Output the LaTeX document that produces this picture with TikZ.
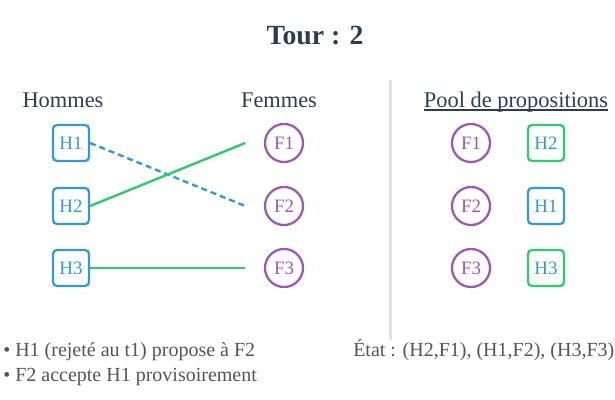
\documentclass[tikz,border=0pt]{standalone}
\usepackage{fontspec}
\setmainfont{Liberation Serif}
\definecolor{homme}{HTML}{3498DB}
\definecolor{femme}{HTML}{9B59B6}
\definecolor{engage}{HTML}{2ECC71}
\definecolor{titre}{HTML}{2C3E50}
\definecolor{note}{HTML}{555555}
\definecolor{sep}{HTML}{E0E0E0}

\begin{document}
\begin{tikzpicture}[x=0.75pt,y=-0.75pt,
    hbox/.style={draw=homme,text=homme,line width=1.7pt,rounded corners=3pt,
      minimum width=27pt,minimum height=27pt,inner sep=0pt,
      font=\fontsize{14.2}{16}\selectfont},
    fcirc/.style={circle,draw=femme,text=femme,line width=1.7pt,
      minimum size=28.5pt,inner sep=0pt,font=\fontsize{14.2}{16}\selectfont},
    head/.style={anchor=base,text=titre,inner sep=0pt,
      font=\fontsize{16.8}{20}\selectfont},
    info/.style={anchor=base west,text=note,inner sep=0pt,
      font=\fontsize{15}{18}\selectfont},
    lien/.style={engage,line width=1.8pt}]
  \useasboundingbox (0,0) rectangle (615,400);

  % separation
  \draw[sep,line width=2.25pt] (390,80) -- (390,340);

  \node[anchor=base,text=titre,font=\fontsize{20.8}{24}\selectfont\bfseries]
    (tour) at (315,44) {Tour : 2};

  \path
  (63,107) node[head](hommes) {Hommes}
  (279,107) node[head](femmes) {Femmes}
  (516,107) node[head](pool) {Pool de propositions}
  ;
  \draw[titre,line width=1.5pt] ([yshift=-2.2pt]pool.base west) -- ([yshift=-2.2pt]pool.base east);

  \path
  (71,143) node[hbox](h1) {H1}
  (71,206) node[hbox](h2) {H2}
  (71,268) node[hbox](h3) {H3}
  ;
  \path
  (284,143) node[fcirc](f1) {F1}
  (284,206) node[fcirc](f2) {F2}
  (284,268) node[fcirc](f3) {F3}
  ;

  \draw[homme,line width=1.8pt,dash pattern=on 4.5pt off 3pt] (h1.east) -- ([xshift=-14pt]f2.west);
  \draw[lien] (h2.east) -- ([xshift=-14pt]f1.west);
  \draw[lien] (h3.east) -- ([xshift=-14pt]f3.west);

  % pool
  \path
  (471,143) node[fcirc](pf1) {F1}
  (471,206) node[fcirc](pf2) {F2}
  (471,268) node[fcirc](pf3) {F3}
  (546,143) node[hbox,draw=engage](ph2) {H2}
  (546,206) node[hbox](ph1) {H1}
  (546,268) node[hbox,draw=engage](ph3) {H3}
  ;

  \path
  (3,356) node[info](n1) {• H1 (rejeté au t1) propose à F2}
  (3,381) node[info](n2) {• F2 accepte H1 provisoirement}
  (353,356) node[info](etat) {État : (H2,F1), (H1,F2), (H3,F3)}
  ;
\end{tikzpicture}
\end{document}
